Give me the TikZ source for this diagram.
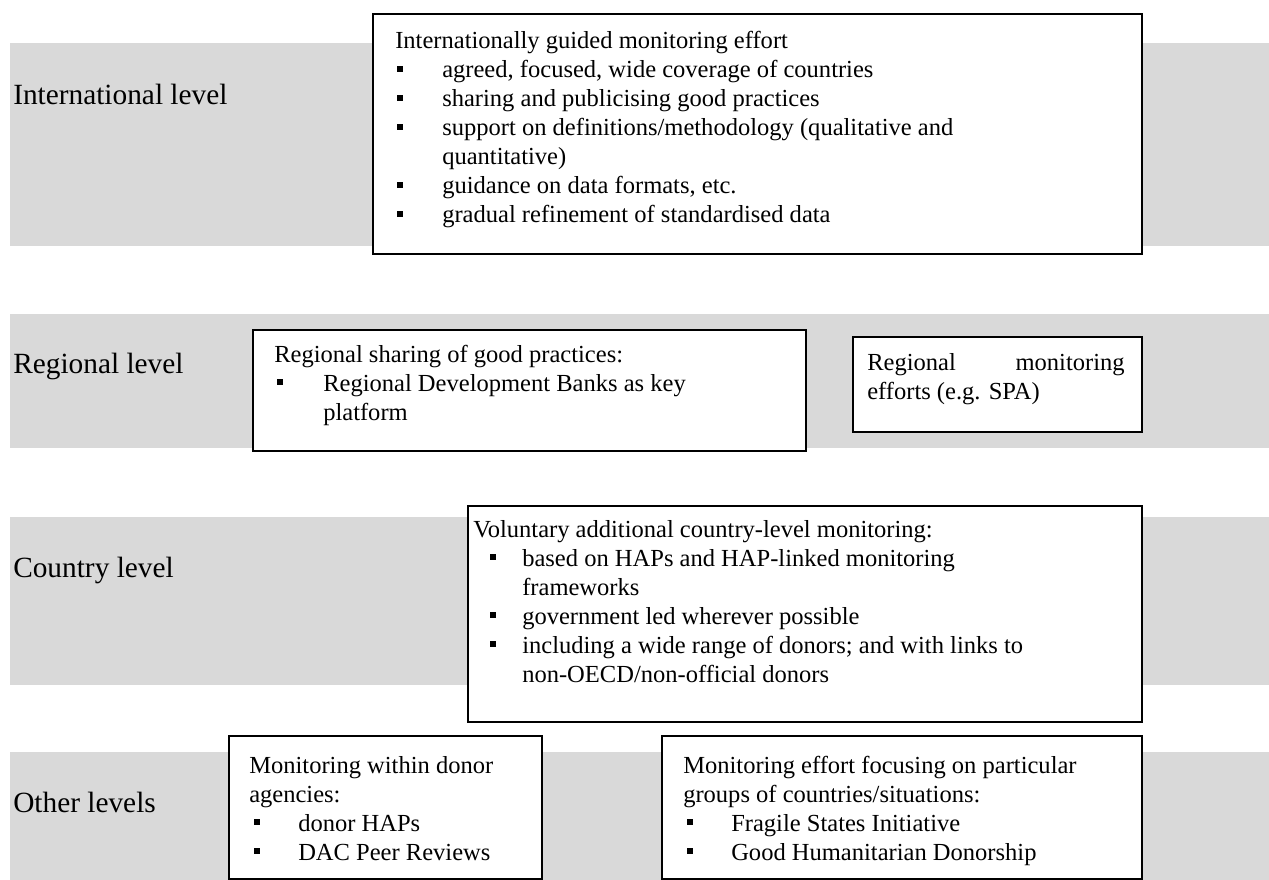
\documentclass[tikz,border=0pt]{standalone}
\usepackage{fontspec}
\setmainfont{Liberation Serif}
\usetikzlibrary{fit}
\definecolor{bandgray}{RGB}{217,217,217}
\begin{document}
\begin{tikzpicture}[x=0.75pt,y=-0.75pt,
  band/.style={fill=bandgray},
  box/.style={draw=black,line width=1pt,fill=white,inner sep=0pt,rectangle},
  txt/.style={anchor=base west,inner sep=0pt,font=\fontsize{18.4}{22}\selectfont},
  lbl/.style={anchor=base west,inner sep=0pt,font=\fontsize{22}{26}\selectfont},
  bul/.style={fill=black,draw=none,rectangle,inner sep=0pt,minimum size=4.8pt}]
\useasboundingbox[fill=white] (0,0) rectangle (1269,880);
% grey bands
\fill[band] (10,43) rectangle (1269,246);
\fill[band] (10,314) rectangle (1269,448);
\fill[band] (10,517) rectangle (1269,685);
\fill[band] (10,752) rectangle (1269,880);
% level labels
\node[lbl] (l1) at (13,105) {International level};
\node[lbl] (l2) at (13,373) {Regional level};
\node[lbl] (l3) at (13,577) {Country level};
\node[lbl] (l4) at (13,812) {Other levels};
% boxes
\node[box,fit={(373,14) (1142,254)}] (b1) {};
\node[box,fit={(253,330) (806,451)}] (b2a) {};
\node[box,fit={(853,337) (1142,432)}] (b2b) {};
\node[box,fit={(468,506) (1142,722)}] (b3) {};
\node[box,fit={(229,736) (542,879)}] (b4a) {};
\node[box,fit={(662,736) (1142,879)}] (b4b) {};
% box 1
\node[txt] (b1t) at (395,49) {Internationally guided monitoring effort};
\node[bul] (b1u1) at (400,69) {};
\node[txt] (b1i1) at (442,78) {agreed, focused, wide coverage of countries};
\node[bul] (b1u2) at (400,98) {};
\node[txt] (b1i2) at (442,107) {sharing and publicising good practices};
\node[bul] (b1u3) at (400,127) {};
\node[txt] (b1i3) at (442,136) {support on definitions/methodology (qualitative and};
\node[txt] (b1i3b) at (442,165) {quantitative)};
\node[bul] (b1u4) at (400,185) {};
\node[txt] (b1i4) at (442,194) {guidance on data formats, etc.};
\node[bul] (b1u5) at (400,214) {};
\node[txt] (b1i5) at (442,223) {gradual refinement of standardised data};
% box 2a
\node[txt] (b2at) at (274,362) {Regional sharing of good practices:};
\node[bul] (b2au1) at (280,382) {};
\node[txt] (b2ai1) at (323,391) {Regional Development Banks as key};
\node[txt] (b2ai1b) at (323,420) {platform};
% box 2b
\node[txt] (b2bt) at (867,370) {\hbox to 193pt{Regional\hfil monitoring}};
\node[txt] (b2bt2) at (867,399) {efforts (e.g. SPA)};
% box 3
\node[txt] (b3t) at (473,537) {Voluntary additional country-level monitoring:};
\node[bul] (b3u1) at (493,557) {};
\node[txt] (b3i1) at (522,566) {based on HAPs and HAP-linked monitoring};
\node[txt] (b3i1b) at (522,595) {frameworks};
\node[bul] (b3u2) at (493,615) {};
\node[txt] (b3i2) at (522,624) {government led wherever possible};
\node[bul] (b3u3) at (493,644) {};
\node[txt] (b3i3) at (522,653) {including a wide range of donors; and with links to};
\node[txt] (b3i3b) at (522,682) {non-OECD/non-official donors};
% box 4a
\node[txt] (b4at) at (249,773) {Monitoring within donor};
\node[txt] (b4at2) at (249,802) {agencies:};
\node[bul] (b4au1) at (257,822) {};
\node[txt] (b4ai1) at (298,831) {donor HAPs};
\node[bul] (b4au2) at (257,851) {};
\node[txt] (b4ai2) at (298,860) {DAC Peer Reviews};
% box 4b
\node[txt] (b4bt) at (683,773) {Monitoring effort focusing on particular};
\node[txt] (b4bt2) at (683,802) {groups of countries/situations:};
\node[bul] (b4bu1) at (690,822) {};
\node[txt] (b4bi1) at (731,831) {Fragile States Initiative};
\node[bul] (b4bu2) at (690,851) {};
\node[txt] (b4bi2) at (731,860) {Good Humanitarian Donorship};
\end{tikzpicture}
\end{document}
